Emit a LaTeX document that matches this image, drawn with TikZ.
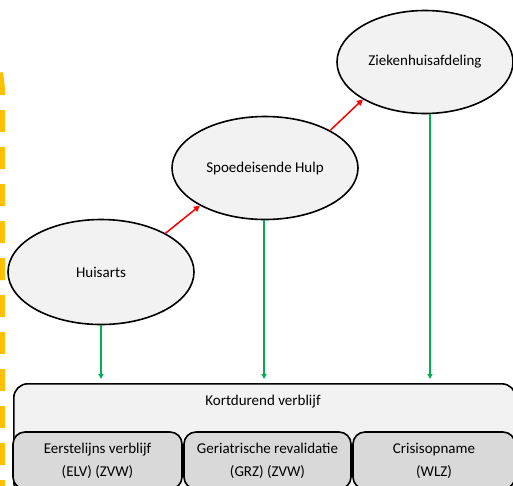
\documentclass[tikz,border=0pt]{standalone}
\usepackage{fontspec}
\setmainfont{Carlito}
\usetikzlibrary{shapes.geometric,arrows.meta}
\definecolor{ellfill}{HTML}{F2F2F2}
\definecolor{subfill}{HTML}{D9D9D9}
\definecolor{gold}{HTML}{FFC000}
\definecolor{grn}{HTML}{00B050}
\definecolor{rd}{HTML}{FF0000}
\tikzset{
  ell/.style={ellipse, draw=black, line width=1.6pt, fill=ellfill, inner sep=0pt,
    font=\fontsize{15}{18}\selectfont},
  outerbox/.style={rectangle, draw=black, line width=1.6pt, fill=ellfill, rounded corners=14pt, inner sep=0pt},
  subbox/.style={rectangle, draw=black, line width=1.6pt, fill=subfill, rounded corners=12pt, inner sep=0pt,
    align=center, font=\fontsize{15}{23}\selectfont},
  lbl/.style={font=\fontsize{15}{18}\selectfont, inner sep=0pt},
  redarr/.style={draw=rd, line width=1.5pt, -{Triangle[length=6pt,width=6pt]}},
  grnarr/.style={draw=grn, line width=1.5pt, -{Triangle[length=5pt,width=5pt]}, shorten >=4pt},
  goldline/.style={gold, line width=10pt, dash pattern=on 22pt off 15pt},
}
\begin{document}
\begin{tikzpicture}[x=1pt,y=-1pt]
\useasboundingbox (0,0) rectangle (513,485);
\clip (0,0) rectangle (513,485);
\fill[white] (0,0) rectangle (513,485);
% yellow dashed borders (edges of shapes outside the picture)
\draw[goldline, rounded corners=100pt] (0,502) -- (0,-6) -- (-300,-6);
\draw[goldline] (20,-5.3) -- (540,-5.3);
% ellipses
\node[ell, minimum width=186pt, minimum height=105pt] (hu) at (101,272) {Huisarts};
\node[ell, minimum width=186pt, minimum height=103pt] (sh) at (265,168) {Spoedeisende Hulp};
\node[ell, minimum width=176pt, minimum height=103pt] (zk) at (425,62) {Ziekenhuisafdeling};
% bottom box
\node[outerbox, minimum width=502pt, minimum height=112pt, anchor=north west] (kv) at (13,383) {};
\node[lbl] (kvt) at (263,402) {Kortdurend verblijf};
\node[subbox, minimum width=169pt, minimum height=57pt] (b1) at (97.5,460.5) {Eerstelijns verblijf\\(ELV) (ZVW)};
\node[subbox, minimum width=167pt, minimum height=57pt] (b2) at (267.5,460.5) {Geriatrische revalidatie\\(GRZ) (ZVW)};
\node[subbox, minimum width=162pt, minimum height=57pt] (b3) at (434,460.5) {Crisisopname\\(WLZ)};
% red arrows
\draw[redarr] (hu.31) -- (sh.210);
\draw[redarr] (sh.30) -- (zk.211);
% green arrows
\draw[grnarr] (hu.south) -- (hu.south |- kv.north);
\draw[grnarr] ([xshift=-1pt]sh.south) -- ([xshift=-1pt]sh.south |- kv.north);
\draw[grnarr] ([xshift=5pt]zk.south) -- ([xshift=5pt]zk.south |- kv.north);
\end{tikzpicture}
\end{document}
